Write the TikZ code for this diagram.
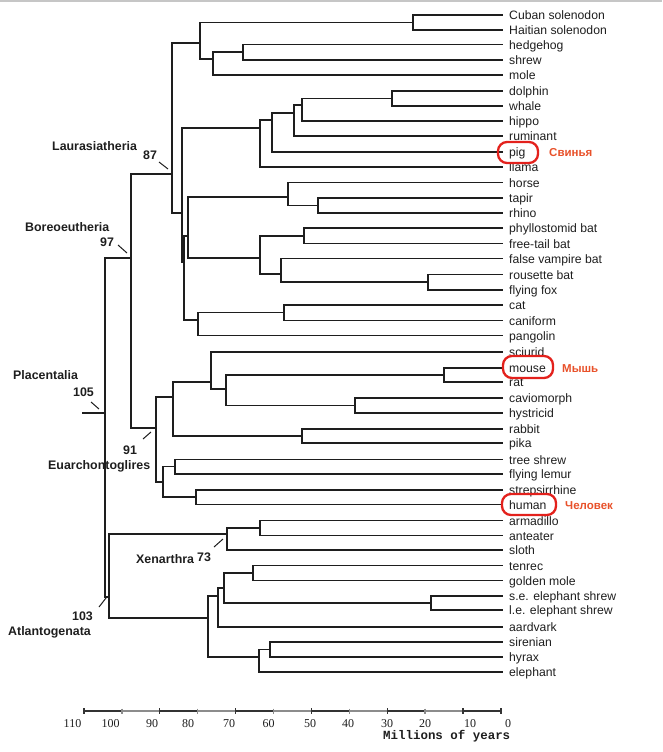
\documentclass[tikz,border=0pt]{standalone}
\usepackage{fontspec}
\setmainfont{Liberation Sans}
\newfontfamily\serifnum{Liberation Serif}
\newfontfamily\monof{Liberation Mono}
\definecolor{ink}{HTML}{1E1E1E}
\definecolor{ringred}{HTML}{E3211C}
\definecolor{rutext}{HTML}{E8512A}
\begin{document}
\begin{tikzpicture}[x=1pt,y=-1pt,
  branch/.style={line width=1.9pt, draw=ink},
  leaf/.style={anchor=base west, inner sep=0pt, text=ink, font=\fontsize{12.2}{13}\selectfont},
  clade/.style={anchor=base west, inner sep=0pt, text=ink, font=\fontsize{12.4}{13}\selectfont\bfseries},
  tick/.style={line width=1pt, draw=ink},
  ring/.style={line width=2.3pt, draw=ringred, rounded corners=9pt},
  rulabel/.style={anchor=base west, inner sep=0pt, text=rutext, font=\fontsize{11.5}{12}\selectfont\bfseries},
  axisnum/.style={anchor=base, inner sep=0pt, text=ink, font=\fontsize{12}{13}\serifnum},
  axisdark/.style={line width=1.8pt, draw=black!80},
  axisgrey/.style={line width=1.4pt, draw=black!45}]
\useasboundingbox (0,0) rectangle (662,752);
\fill[gray!45] (0,0) rectangle (662,2.5);

% leaves
\foreach \i/\yy/\txt in {
 1/15/Cuban solenodon, 2/30/Haitian solenodon, 3/44.5/hedgehog, 4/60/shrew, 5/75/mole,
 6/91/dolphin, 7/106/whale, 8/121/hippo, 9/136/ruminant, 10/152/pig, 11/167/llama,
 12/182.5/horse, 13/198/tapir, 14/213/rhino, 15/228/phyllostomid bat, 16/243.5/free-tail bat,
 17/258.5/false vampire bat, 18/274.5/rousette bat, 19/290/flying fox, 20/305/cat,
 21/320.5/caniform, 22/335.5/pangolin, 23/352/sciurid, 24/368/mouse, 25/382/rat,
 26/398/caviomorph, 27/413/hystricid, 28/429/rabbit, 29/443/pika, 30/459.5/tree shrew,
 31/474/flying lemur, 32/490/strepsirrhine, 33/504.5/human, 34/520.5/armadillo,
 35/535.5/anteater, 36/550/sloth, 37/565.5/tenrec, 38/580.5/golden mole,
 39/596/s.e. elephant shrew, 40/610/l.e. elephant shrew, 41/627/aardvark,
 42/642/sirenian, 43/657/hyrax, 44/672/elephant} {
  \coordinate (t\i) at (503,\yy);
  \node[leaf] (n\i) at ([xshift=6pt,yshift=-4.5pt]t\i) {\txt};
}

% internal nodes
\coordinate (solen) at (413,22.5);
\coordinate (hs) at (243,52);
\coordinate (hsm) at (213,59);
\coordinate (eul) at (200,43);
\coordinate (dw) at (392,98.5);
\coordinate (cet1) at (302,105);
\coordinate (cet2) at (294,113);
\coordinate (cet3) at (272,120);
\coordinate (cet) at (260,128);
\coordinate (tr) at (318,205.5);
\coordinate (per) at (288,197);
\coordinate (pf) at (304,236);
\coordinate (rff) at (428,282);
\coordinate (vr) at (281,274);
\coordinate (chi) at (260,258);
\coordinate (pc) at (188,236);
\coordinate (cc) at (284,312.5);
\coordinate (fp) at (198,320);
\coordinate (xs) at (184,262);
\coordinate (scr) at (182,213);
\coordinate (laur) at (172,174);
\coordinate (mr) at (444,375);
\coordinate (hys) at (355,405.5);
\coordinate (rod2) at (226,389);
\coordinate (rod) at (211,382);
\coordinate (lag) at (302,436);
\coordinate (gli) at (173,397);
\coordinate (sund) at (175,466.5);
\coordinate (pri) at (196,497);
\coordinate (eua) at (163,482);
\coordinate (euarch) at (156,428);
\coordinate (boreo) at (131,258);
\coordinate (aa) at (260,528);
\coordinate (xen) at (227,534);
\coordinate (afs) at (253,573);
\coordinate (mac) at (431,603);
\coordinate (am) at (224,588);
\coordinate (afi) at (218,596);
\coordinate (sh) at (270,649.5);
\coordinate (pae) at (259,657);
\coordinate (afr) at (208,618);
\coordinate (atl) at (109,597);
\coordinate (plac) at (105,413);
\coordinate (root) at (82,413);

\foreach \p/\c in {solen/t1, solen/t2, hs/t3, hs/t4, hsm/hs, hsm/t5, eul/solen, eul/hsm,
  dw/t6, dw/t7, cet1/dw, cet1/t8, cet2/cet1, cet2/t9, cet3/cet2, cet3/t10, cet/cet3, cet/t11,
  tr/t13, tr/t14, per/t12, per/tr, pf/t15, pf/t16, rff/t18, rff/t19, vr/t17, vr/rff,
  chi/pf, chi/vr, pc/per, pc/chi, cc/t20, cc/t21, fp/cc, fp/t22, xs/pc, xs/fp,
  scr/cet, scr/xs, laur/eul, laur/scr,
  mr/t24, mr/t25, hys/t26, hys/t27, rod2/mr, rod2/hys, rod/t23, rod/rod2,
  lag/t28, lag/t29, gli/rod, gli/lag, sund/t30, sund/t31, pri/t32, pri/t33,
  eua/sund, eua/pri, euarch/gli, euarch/eua, boreo/laur, boreo/euarch,
  aa/t34, aa/t35, xen/aa, xen/t36, afs/t37, afs/t38, mac/t39, mac/t40,
  am/afs, am/mac, afi/am, afi/t41, sh/t42, sh/t43, pae/sh, pae/t44,
  afr/afi, afr/pae, atl/xen, atl/afr, plac/boreo, plac/atl} {
  \draw[branch] (\p) |- (\c);
}
\draw[branch] (root) -- (plac);

% clade labels
\node[clade] (lLaur) at (52,150.5) {Laurasiatheria};
\node[clade] (v87) at (143,159.5) {87};
\draw[tick] (159,162) -- (168,169);
\node[clade] (lBoreo) at (25,231) {Boreoeutheria};
\node[clade] (v97) at (100,246.5) {97};
\draw[tick] (118,245) -- (127,253);
\node[clade] (lPlac) at (13,379) {Placentalia};
\node[clade] (v105) at (73,396) {105};
\draw[tick] (91,402) -- (99,409);
\node[clade] (v91) at (123,454) {91};
\draw[tick] (143,439) -- (151,432);
\node[clade] (lEuarch) at (48,469) {Euarchontoglires};
\node[clade] (lXen) at (136,563) {Xenarthra};
\node[clade] (v73) at (197,561) {73};
\draw[tick] (214,547) -- (223,539);
\node[clade] (v103) at (72,620) {103};
\draw[tick] (99,607) -- (106,598);
\node[clade] (lAtl) at (8,635) {Atlantogenata};

% highlighted species
\draw[ring] ([xshift=-5pt,yshift=10pt]t10) rectangle ([xshift=35pt,yshift=-11pt]t10);
\node[rulabel] (ru1) at ([xshift=46pt,yshift=-4.5pt]t10) {Свинья};
\draw[ring] ([xshift=0pt,yshift=12pt]t24) rectangle ([xshift=50pt,yshift=-10pt]t24);
\node[rulabel] (ru2) at ([xshift=59pt,yshift=-4.5pt]t24) {Мышь};
\draw[ring] ([xshift=-1pt,yshift=10.5pt]t33) rectangle ([xshift=53pt,yshift=-10.5pt]t33);
\node[rulabel] (ru3) at ([xshift=62pt,yshift=-4.5pt]t33) {Человек};

% time axis
\foreach \k in {0,...,10} {
  \pgfmathsetmacro{\xa}{84+37.9*\k}
  \pgfmathsetmacro{\xb}{84+37.9*(\k+1)}
  \pgfmathtruncatemacro{\odd}{mod(\k,2)}
  \ifnum\odd=0
    \draw[axisdark] (\xa,711) -- (\xb,711);
  \else
    \draw[axisgrey] (\xa,711) -- (\xb,711);
  \fi
}
\foreach \k in {0,...,11} {
  \pgfmathsetmacro{\xa}{84+37.9*\k}
  \pgfmathtruncatemacro{\odd}{mod(\k,2)}
  \ifnum\k=11 \def\odd{0}\fi
  \ifnum\odd=0
    \draw[line width=1.3pt, draw=black!80] (\xa,708) -- (\xa,714);
  \else
    \draw[line width=1.3pt, draw=black!45] (\xa,708.5) -- (\xa,713.5);
  \fi
}
\foreach \xx/\lab in {72.5/110, 110.5/100, 152/90, 188/80, 229/70, 268.5/60, 310/50,
  348/40, 387/30, 425/20, 470/10, 508/0} {
  \node[axisnum] at (\xx,727.5) {\lab};
}
\node[anchor=base west, inner sep=0pt, text=ink, font=\fontsize{12.45}{13}\monof\bfseries] (axtitle) at (383,739) {Millions of years};
\end{tikzpicture}
\end{document}
